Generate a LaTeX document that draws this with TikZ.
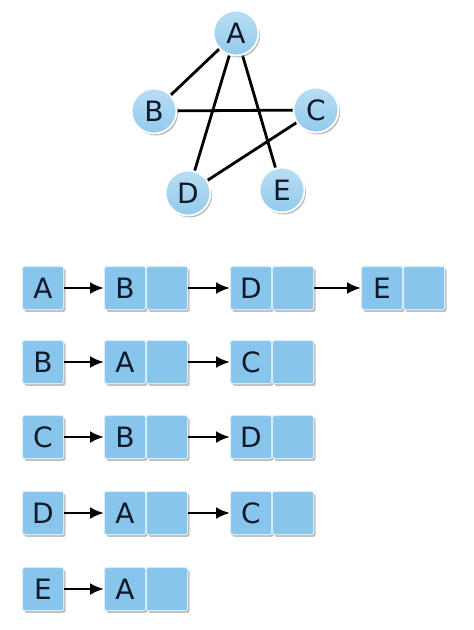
\documentclass[tikz,border=0pt]{standalone}
\usepackage{fontspec}
\setmainfont{DejaVu Sans}
\usetikzlibrary{arrows.meta,shadows}
\definecolor{nodeblue}{RGB}{145,202,236}
\definecolor{nodetop}{RGB}{185,222,244}
\definecolor{boxblue}{RGB}{136,197,236}
\definecolor{rimblue}{RGB}{215,236,248}
\definecolor{inkdark}{RGB}{15,25,40}
\begin{document}
\begin{tikzpicture}[x=1pt,y=-1pt,
    vtx/.style={circle,draw=white,line width=1.8pt,top color=nodetop,bottom color=nodeblue,
      minimum size=45pt,inner sep=0pt,
      drop shadow={shadow xshift=1.6pt,shadow yshift=-2pt,opacity=0.55}},
    cell/.style={rectangle,rounded corners=1.5pt,draw=rimblue,line width=1pt,fill=boxblue,
      minimum width=41pt,minimum height=43pt,inner sep=0pt,
      drop shadow={shadow xshift=2pt,shadow yshift=-2.4pt,opacity=0.5}},
    link/.style={-{Latex[length=14pt,width=12pt]},line width=2.6pt},
    every node/.style={font=\fontsize{28}{28}\selectfont,text=inkdark}]
  \useasboundingbox (0,0) rectangle (474,630);
  % the graph
  \draw[line width=2.8pt] (236,33) -- (154,111) (236,33) -- (188,193)
    (236,33) -- (282,190) (154,111) -- (316,110) (316,110) -- (188,193);
  \node[vtx] (a) at (236,33) {A};
  \node[vtx] (b) at (154,111) {B};
  \node[vtx] (c) at (316,110) {C};
  \node[vtx] (d) at (188,193) {D};
  \node[vtx] (e) at (282,190) {E};
  % list of A
  \node[cell] (a0) at (43,288) {A};
  \node[cell] (a1) at (125,288) {B};
  \node[cell] (a1n) at (167,288) {};
  \node[cell] (a2) at (251,288) {D};
  \node[cell] (a2n) at (293,288) {};
  \node[cell] (a3) at (382,288) {E};
  \node[cell] (a3n) at (424,288) {};
  \draw[link] (a0) -- (a1);
  \draw[link] (a1n) -- (a2);
  \draw[link] (a2n) -- (a3);
  % list of B
  \node[cell] (b0) at (43,362) {B};
  \node[cell] (b1) at (125,362) {A};
  \node[cell] (b1n) at (167,362) {};
  \node[cell] (b2) at (251,362) {C};
  \node[cell] (b2n) at (293,362) {};
  \draw[link] (b0) -- (b1);
  \draw[link] (b1n) -- (b2);
  % list of C
  \node[cell] (c0) at (43,437) {C};
  \node[cell] (c1) at (125,437) {B};
  \node[cell] (c1n) at (167,437) {};
  \node[cell] (c2) at (251,437) {D};
  \node[cell] (c2n) at (293,437) {};
  \draw[link] (c0) -- (c1);
  \draw[link] (c1n) -- (c2);
  % list of D
  \node[cell] (d0) at (43,513) {D};
  \node[cell] (d1) at (125,513) {A};
  \node[cell] (d1n) at (167,513) {};
  \node[cell] (d2) at (251,513) {C};
  \node[cell] (d2n) at (293,513) {};
  \draw[link] (d0) -- (d1);
  \draw[link] (d1n) -- (d2);
  % list of E
  \node[cell] (e0) at (43,589) {E};
  \node[cell] (e1) at (125,589) {A};
  \node[cell] (e1n) at (167,589) {};
  \draw[link] (e0) -- (e1);
\end{tikzpicture}
\end{document}
